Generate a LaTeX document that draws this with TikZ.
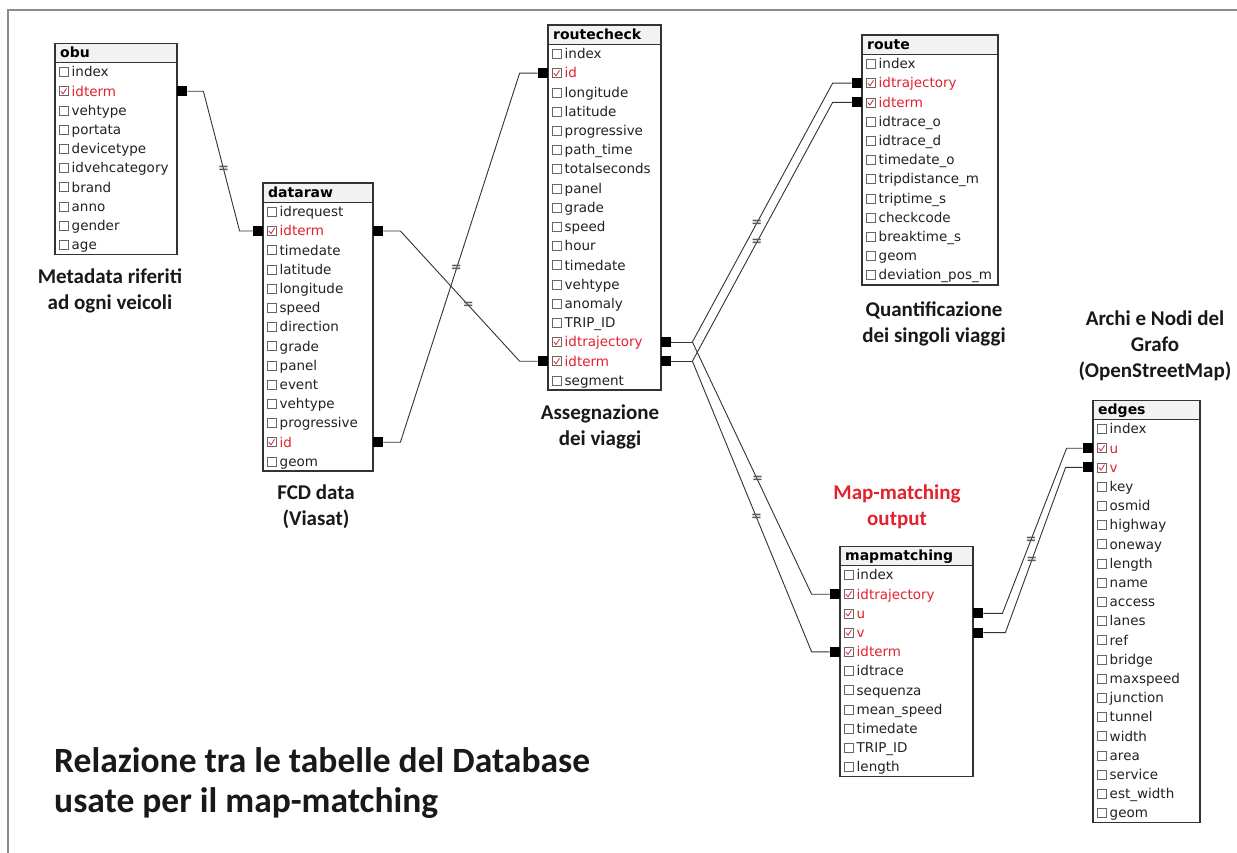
\documentclass[tikz,border=0pt]{standalone}
\usepackage{fontspec}
\setmainfont{DejaVu Sans}
\newfontfamily\lblfont{Carlito}
\usetikzlibrary{calc}
\definecolor{keyred}{RGB}{226,34,46}
\definecolor{fieldtxt}{RGB}{34,34,34}
\definecolor{framegray}{RGB}{140,140,140}
\tikzset{
  field/.style={font=\fontsize{13.5}{15}\selectfont, inner sep=0pt, text=fieldtxt},
  tbltitle/.style={font=\bfseries\fontsize{14}{16}\selectfont, inner sep=0pt, anchor=base west, text=black},
  titlebg/.style={fill=black!5, draw=none},
  cbox/.style={draw=black!60, line width=0.6pt, fill=white},
  checkmk/.style={draw=keyred, line width=0.8pt},
  tblframe/.style={draw=black!80, line width=1.4pt},
  titleline/.style={draw=black!80, line width=1.2pt},
  keysq/.style={fill=black, minimum size=10pt, inner sep=0pt, draw=none},
  conn/.style={draw=black!80, line width=0.9pt},
  eqmark/.style={font=\bfseries\fontsize{13}{13}\selectfont, text=black!65, inner sep=0pt},
  lbl/.style={font=\lblfont\bfseries\fontsize{21}{26}\selectfont, align=center, text=black!90, inner sep=0pt},
}
% name, left, top, width, title, number of fields, fields (text/key)
\newcommand\dbtable[7]{%
  \fill[titlebg] (#2,#3) rectangle (#2+#4,#3+19.2);
  \node[tbltitle] (#1) at (#2+5,#3+14.5) {#5};
  \foreach \fld/\key [count=\i] in {#7} {
    \pgfmathsetmacro\yc{#3+19.2+19.2*(\i-0.5)}
    \coordinate (#1-\i-L) at (#2,\yc);
    \coordinate (#1-\i-R) at (#2+#4,\yc);
    \draw[cbox] (#2+4,\yc-4.5) rectangle (#2+13,\yc+4.5);
    \ifnum\key=1
      \draw[checkmk] (#2+5.8,\yc) -- (#2+8,\yc+2.6) -- (#2+11.5,\yc-2.8);
      \node[field, text=keyred, anchor=base west] (#1-t\i) at (#2+16.5,\yc+4.8) {\fld};
    \else
      \node[field, anchor=base west] (#1-t\i) at (#2+16.5,\yc+4.8) {\fld};
    \fi
  }
  \draw[titleline] (#2,#3+19.2) -- (#2+#4,#3+19.2);
  \draw[tblframe] (#2,#3) rectangle (#2+#4,#3+19.2+19.2*#6);
}
\begin{document}
\begin{tikzpicture}[x=1pt,y=-1pt]
\useasboundingbox (0,0) rectangle (1237,853);
\fill[white] (0,0) rectangle (1237,853);
\draw[framegray, line width=1.5pt] (8,853) -- (8,10) -- (1237,10);

\dbtable{obu}{55}{43.3}{122}{obu}{10}{index/0,idterm/1,vehtype/0,portata/0,devicetype/0,idvehcategory/0,brand/0,anno/0,gender/0,age/0}
\dbtable{dataraw}{263}{183}{110}{dataraw}{14}{idrequest/0,idterm/1,timedate/0,latitude/0,longitude/0,speed/0,direction/0,grade/0,panel/0,event/0,vehtype/0,progressive/0,id/1,geom/0}
\dbtable{routecheck}{548}{25.2}{113}{routecheck}{18}{index/0,id/1,longitude/0,latitude/0,progressive/0,path\_time/0,totalseconds/0,panel/0,grade/0,speed/0,hour/0,timedate/0,vehtype/0,anomaly/0,TRIP\_ID/0,idtrajectory/1,idterm/1,segment/0}
\dbtable{route}{862}{35.2}{136}{route}{12}{index/0,idtrajectory/1,idterm/1,idtrace\_o/0,idtrace\_d/0,timedate\_o/0,tripdistance\_m/0,triptime\_s/0,checkcode/0,breaktime\_s/0,geom/0,deviation\_pos\_m/0}
\dbtable{mapmatching}{840}{546.2}{133}{mapmatching}{11}{index/0,idtrajectory/1,u/1,v/1,idterm/1,idtrace/0,sequenza/0,mean\_speed/0,timedate/0,TRIP\_ID/0,length/0}
\dbtable{edges}{1093}{400.2}{107}{edges}{21}{index/0,u/1,v/1,key/0,osmid/0,highway/0,oneway/0,length/0,name/0,access/0,lanes/0,ref/0,bridge/0,maxspeed/0,junction/0,tunnel/0,width/0,area/0,service/0,est\_width/0,geom/0}

% key squares
\node[keysq, anchor=west] (k1) at (obu-2-R) {};
\node[keysq, anchor=east] (k2) at (dataraw-2-L) {};
\node[keysq, anchor=west] (k3) at (dataraw-2-R) {};
\node[keysq, anchor=east] (k4) at (routecheck-17-L) {};
\node[keysq, anchor=west] (k5) at (dataraw-13-R) {};
\node[keysq, anchor=east] (k6) at (routecheck-2-L) {};
\node[keysq, anchor=west] (k7) at (routecheck-16-R) {};
\node[keysq, anchor=east] (k8) at (route-2-L) {};
\node[keysq, anchor=east] (k9) at (mapmatching-2-L) {};
\node[keysq, anchor=west] (k10) at (routecheck-17-R) {};
\node[keysq, anchor=east] (k11) at (route-3-L) {};
\node[keysq, anchor=east] (k12) at (mapmatching-5-L) {};
\node[keysq, anchor=west] (k13) at (mapmatching-3-R) {};
\node[keysq, anchor=east] (k14) at (edges-2-L) {};
\node[keysq, anchor=west] (k15) at (mapmatching-4-R) {};
\node[keysq, anchor=east] (k16) at (edges-3-L) {};

% connectors
\draw[conn] (k1.east) -- ++(16,0) -- node[eqmark, pos=0.56] (e1) {=} ($(k2.west)+(-13,0)$) -- (k2.west);
\draw[conn] (k3.east) -- ++(17,0) -- node[eqmark, pos=0.57] (e2) {=} ($(k4.west)+(-18,0)$) -- (k4.west);
\draw[conn] (k5.east) -- ++(17,0) -- node[eqmark, pos=0.47] (e3) {=} ($(k6.west)+(-18,0)$) -- (k6.west);
\draw[conn] (k7.east) -- ++(21,0) coordinate (b1);
\draw[conn] (b1) -- node[eqmark, pos=0.46] (e4) {=} ($(k8.west)+(-19,0)$) -- (k8.west);
\draw[conn] (b1) -- node[eqmark, pos=0.546] (e5) {=} ($(k9.west)+(-18,0)$) -- (k9.west);
\draw[conn] (k10.east) -- ++(21,0) coordinate (b2);
\draw[conn] (b2) -- node[eqmark, pos=0.46] (e6) {=} ($(k11.west)+(-19,0)$) -- (k11.west);
\draw[conn] (b2) -- node[eqmark, pos=0.538] (e7) {=} ($(k12.west)+(-18,0)$) -- (k12.west);
\draw[conn] (k13.east) -- ++(19,0) -- node[eqmark, pos=0.445] (e8) {=} ($(k14.west)+(-16,0)$) -- (k14.west);
\draw[conn] (k15.east) -- ++(22,0) -- node[eqmark, pos=0.44] (e9) {=} ($(k16.west)+(-17,0)$) -- (k16.west);

% labels
\node[lbl] (l1) at (110,291) {Metadata riferiti\\ad ogni veicoli};
\node[lbl] (l2) at (316,507) {FCD data\\(Viasat)};
\node[lbl] (l3) at (600,427) {Assegnazione\\dei viaggi};
\node[lbl] (l4) at (934,324) {Quantificazione\\dei singoli viaggi};
\node[lbl] (l5) at (1155,346) {Archi e Nodi del\\Grafo\\(OpenStreetMap)};
\node[lbl, text=keyred] (l6) at (897,507) {Map-matching\\output};
\node[lbl, font=\lblfont\bfseries\fontsize{35.5}{40}\selectfont, align=left, anchor=west] (l7) at (54,783) {Relazione tra le tabelle del Database\\usate per il map-matching};
\end{tikzpicture}
\end{document}
